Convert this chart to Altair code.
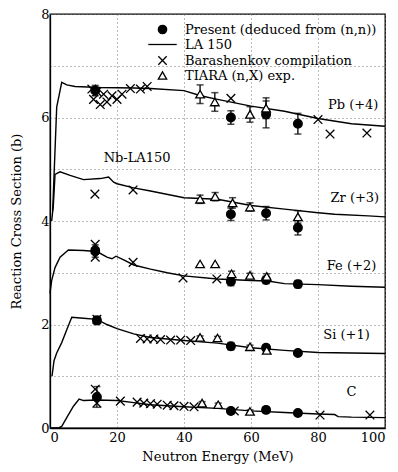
import altair as alt
import pandas as pd

FONT = "DejaVu Serif"

# ---------------- LA150 curves (with offsets already added) ----------------
c_E = [0, 2.5, 3.5, 5, 7, 8.7, 10, 14, 20, 25, 30, 40, 50, 60, 70, 80, 85, 86, 90, 100]
c_S = [0, 0, 0.03, 0.2, 0.42, 0.56, 0.53, 0.54, 0.53, 0.49, 0.45, 0.41, 0.38, 0.33, 0.3, 0.27, 0.26, 0.22, 0.21, 0.2]

si_E = [0.6, 1.2, 2, 3.5, 5, 6.5, 10, 14, 17, 20, 25, 30, 35, 40, 50, 60, 70, 80, 90, 100]
si_S = [1.0, 1.3, 1.45, 1.65, 1.9, 2.14, 2.12, 2.1, 2.0, 1.92, 1.82, 1.75, 1.72, 1.69, 1.64, 1.55, 1.5, 1.46, 1.45, 1.44]

fe_E = [0, 0.5, 1.5, 3, 5.5, 10, 14, 17, 18.5, 19.7, 22, 25, 30, 35, 40, 50, 60, 65, 70, 80, 90, 100]
fe_S = [2.6, 2.85, 3.1, 3.3, 3.44, 3.43, 3.41, 3.3, 3.27, 3.32, 3.25, 3.15, 3.07, 3.0, 2.94, 2.88, 2.85, 2.84, 2.79, 2.77, 2.74, 2.72]

zr_E = [0.5, 1, 1.5, 3, 6, 10, 15, 17.5, 19, 20, 25, 30, 40, 50, 60, 70, 80, 85, 95, 100]
zr_S = [4.0, 4.3, 4.9, 4.95, 4.88, 4.8, 4.82, 4.85, 4.75, 4.72, 4.64, 4.58, 4.45, 4.42, 4.3, 4.23, 4.16, 4.13, 4.1, 4.08]

pb_E = [0.8, 2, 3.5, 5, 7.5, 15, 25, 30, 40, 45, 50, 60, 70, 80, 90, 100]
pb_S = [4.2, 6.2, 6.68, 6.63, 6.6, 6.58, 6.57, 6.56, 6.52, 6.42, 6.35, 6.22, 6.12, 5.98, 5.88, 5.83]

# ---------------- Present (deduced from (n,n)) ----------------
pres_E = [13.5, 54, 64.5, 74,   54, 64.5, 74,   13.5, 54, 64.5, 74,   14, 54, 64.5, 74,   14, 54, 64.5, 74]
pres_S = [6.52, 6.0, 6.06, 5.88, 4.13, 4.15, 3.87, 3.42, 2.83, 2.86, 2.78, 2.08, 1.58, 1.55, 1.45, 0.6, 0.33, 0.35, 0.29]
pres_err = [0.1, 0.13, 0.26, 0.2, 0.12, 0.13, 0.14, 0.12, 0.08, 0.07, 0.07, 0.08, 0.07, 0.06, 0.04, 0.2, 0.05, 0.05, 0.04]

# ---------------- TIARA (n,X) exp. ----------------
tiara_E = [44.8, 49.2, 59.7, 64.5,   44.8, 49.3, 54.5, 59.7, 74,   44.8, 49.3, 54.2, 59.7, 64.7,   44.8, 50, 59.7, 64.7,   45.4, 50.2, 59.7]
tiara_S = [6.45, 6.3, 6.06, 6.18,   4.42, 4.47, 4.35, 4.27, 4.08,   3.17, 3.17, 2.98, 2.95, 2.93,   1.75, 1.74, 1.57, 1.5,   0.48, 0.45, 0.32]
tiara_err = [0.18, 0.18, 0.15, 0.2,  0.08, 0.08, 0.1, 0.08, 0.12,  0, 0, 0.05, 0.04, 0.05,  0.03, 0.03, 0.03, 0.04,  0.03, 0.03, 0.03]

# ---------------- Barashenkov compilation ----------------
bar_E = [12.5, 13, 14, 15, 16, 17, 18.5, 20, 21.5, 24, 27, 29, 54, 80, 83.6, 94.6,
         13.4, 24.8,
         13.5, 13.5, 24.8, 39.7, 49.8,
         14, 27, 29, 31, 33, 36, 39, 42,
         13.5, 14, 21, 26, 28, 30, 32, 35, 37, 40, 43, 55, 80.6, 95.5]
bar_S = [6.55, 6.35, 6.5, 6.25, 6.45, 6.3, 6.42, 6.35, 6.45, 6.56, 6.55, 6.6, 6.37, 5.96, 5.68, 5.7,
         4.52, 4.6,
         3.55, 3.3, 3.2, 2.9, 2.88,
         2.1, 1.73, 1.72, 1.72, 1.71, 1.7, 1.7, 1.69,
         0.75, 0.48, 0.52, 0.5, 0.48, 0.47, 0.46, 0.44, 0.43, 0.42, 0.41, 0.33, 0.25, 0.25]

# ---------------- text labels ----------------
lab_text = ["Pb (+4)", "Zr (+3)", "Fe (+2)", "Si (+1)", "C", "Nb-LA150"]
lab_E = [90.5, 91, 90, 88.5, 90, 26]
lab_S = [6.25, 4.44, 3.13, 1.79, 0.69, 5.21]

legend_names = ["Present (deduced from (n,n))", "LA 150", "Barashenkov compilation", "TIARA (n,X) exp."]

# ---------------- build tables ----------------
curves = []
for name, E, S in [("C", c_E, c_S), ("Si", si_E, si_S), ("Fe", fe_E, fe_S), ("Zr", zr_E, zr_S), ("Pb", pb_E, pb_S)]:
    for i, (e, s) in enumerate(zip(E, S)):
        curves.append({"series": name, "E": e, "S": s, "i": i})
curves = pd.DataFrame(curves)

pts = []
for e, s, er in zip(pres_E, pres_S, pres_err):
    pts.append({"kind": legend_names[0], "E": e, "S": s, "err": er})
for e, s in zip(bar_E, bar_S):
    pts.append({"kind": legend_names[2], "E": e, "S": s, "err": 0})
for e, s, er in zip(tiara_E, tiara_S, tiara_err):
    pts.append({"kind": legend_names[3], "E": e, "S": s, "err": er})
pts = pd.DataFrame(pts)
pts["lo"] = pts["S"] - pts["err"]
pts["hi"] = pts["S"] + pts["err"]
errs = pts[pts["err"] > 0].copy()
caps = pd.concat([errs.assign(C=errs["lo"]), errs.assign(C=errs["hi"])])

labels = pd.DataFrame({"t": lab_text, "E": lab_E, "S": lab_S})

xs = alt.Scale(domain=[0, 100], nice=False)
ys = alt.Scale(domain=[0, 8], nice=False)

xax = alt.Axis(values=list(range(0, 101, 10)), labelExpr="datum.value % 20 == 0 ? datum.label : ''",
               title="Neutron Energy (MeV)", ticks=False, labelPadding=3, titlePadding=6,
               grid=True, gridDash=[1, 3], gridColor="#777", gridWidth=1)
yax = alt.Axis(values=list(range(0, 9)), labelExpr="datum.value % 2 == 0 ? datum.label : ''",
               title="Reaction Cross Section (b)", ticks=False, labelPadding=1, titlePadding=17,
               grid=True, gridDash=[1, 3], gridColor="#777", gridWidth=1)

X_PATH = "M-1,-1L1,1M-1,1L1,-1"
LINE_PATH = "M-3.4,0L3.4,0"

lines = alt.Chart(curves).mark_line(color="black", strokeWidth=1.4).encode(
    x=alt.X("E:Q", scale=xs, axis=xax),
    y=alt.Y("S:Q", scale=ys, axis=yax),
    detail="series:N",
    order="i:Q",
)

rules = alt.Chart(errs).mark_rule(color="black", strokeWidth=1.3).encode(
    x="E:Q", y="lo:Q", y2="hi:Q"
)
capm = alt.Chart(caps).mark_point(shape="stroke", size=50, color="black", strokeWidth=1.5).encode(
    x="E:Q", y="C:Q"
)

leg = alt.Legend(title=None, orient="none", legendX=106, legendY=9,
                 symbolSize=70, symbolStrokeWidth=1.3,
                 labelFont=FONT, labelFontSize=13, labelColor="black", labelLimit=0,
                 labelOffset=16, rowPadding=1)

points = alt.Chart(pts).mark_point(size=75, strokeWidth=1.3, opacity=1).encode(
    x="E:Q",
    y="S:Q",
    shape=alt.Shape("kind:N", scale=alt.Scale(domain=legend_names,
                    range=["circle", LINE_PATH, X_PATH, "triangle-up"]), legend=leg),
    fill=alt.Fill("kind:N", scale=alt.Scale(domain=legend_names,
                  range=["black", "transparent", "transparent", "white"]), legend=leg),
    stroke=alt.Stroke("kind:N", scale=alt.Scale(domain=legend_names,
                      range=["black", "black", "black", "black"]), legend=leg),
)

texts = alt.Chart(labels).mark_text(font=FONT, fontSize=13, color="black", align="center").encode(
    x="E:Q", y="S:Q", text="t:N"
)

chart = alt.layer(lines, rules, capm, points, texts).properties(
    width=335, height=414,
    padding={"left": 42, "top": 6, "right": 5, "bottom": 36},
    autosize=alt.AutoSizeParams(type="none"),
    background="white",
).configure_view(stroke="black", strokeWidth=1.3).configure_axis(
    labelFont=FONT, labelFontSize=13, labelColor="black", titleFont=FONT, titleFontSize=13,
    titleFontWeight="normal", titleColor="black", domainColor="black", domainWidth=1.3,
)

chart.save("out.html", embed_options={"renderer": "svg", "actions": False})
